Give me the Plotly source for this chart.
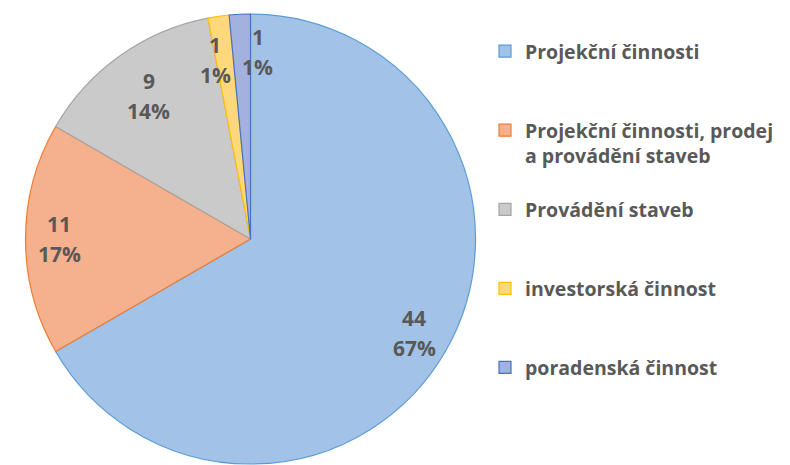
import math
import plotly.graph_objects as go

# ---- data ----
categories = [
    "Projekční činnosti",
    "Projekční činnosti, prodej<br>a provádění staveb",
    "Provádění staveb",
    "investorská činnost",
    "poradenská činnost",
]
values = [44, 11, 9, 1, 1]
pct_labels = ["67%", "17%", "14%", "1%", "1%"]

# ---- styles ----
fill_colors = ["#A2C3E7", "#F5B08E", "#CACACA", "#FFD87C", "#A3B1DF"]
line_colors = ["#5B9BD5", "#ED7D31", "#A5A5A5", "#FFC000", "#4472C4"]
label_color = "#595959"
font_family = "'Open Sans', Roboto, sans-serif"

W, H = 790, 465
cx_px, cy_px, r_px = 250.5, 239.0, 225.0
label_radius = [0.84, 0.85, 0.78, 0.81, 0.83]
label_nudge_deg = [0, 0, 0, -3, 5]

# legend entries padded with blank lines so spacing matches the original
def pad(label, total_lines=3):
    n = label.count("<br>") + 1
    return "<b>" + label + "</b>" + "<br>\u00a0" * (total_lines - n)

legend_labels = [pad(c) for c in categories]

fig = go.Figure(
    go.Pie(
        labels=legend_labels,
        values=values,
        sort=False,
        direction="clockwise",
        rotation=0,
        textinfo="none",
        hoverinfo="label+value+percent",
        marker=dict(colors=fill_colors, line=dict(color=line_colors, width=1.2)),
        domain=dict(
            x=[(cx_px - r_px) / W, (cx_px + r_px) / W],
            y=[(H - (cy_px + r_px)) / H, (H - (cy_px - r_px)) / H],
        ),
    )
)

# data labels placed along each slice's bisector
total = sum(values)
cum = 0
annotations = []
for i, v in enumerate(values):
    mid = (cum + v / 2) / total * 360 + label_nudge_deg[i]
    cum += v
    a = math.radians(mid)
    x = (cx_px + r_px * label_radius[i] * math.sin(a)) / W
    y = (H - (cy_px - r_px * label_radius[i] * math.cos(a))) / H
    for txt, ys in ((str(v), 15), (pct_labels[i], -15)):
        annotations.append(
            dict(
                x=x, y=y, xref="paper", yref="paper",
                text="<b>" + txt + "</b>", showarrow=False,
                yshift=ys, xanchor="center", yanchor="middle",
                font=dict(family=font_family, size=21, color=label_color),
            )
        )

fig.update_layout(
    width=W,
    height=H,
    margin=dict(l=0, r=0, t=0, b=0),
    paper_bgcolor="white",
    plot_bgcolor="white",
    font=dict(family=font_family, color=label_color),
    showlegend=True,
    legend=dict(
        x=485 / W, xanchor="left",
        y=1 - 32 / H, yanchor="top",
        valign="top",
        font=dict(family=font_family, size=19.5, color=label_color),
        bgcolor="rgba(0,0,0,0)",
        itemclick=False,
    ),
    annotations=annotations,
)

fig.write_html(
    "out.html",
    config={"displayModeBar": False},
    post_script="document.body.style.margin='0';",
)
